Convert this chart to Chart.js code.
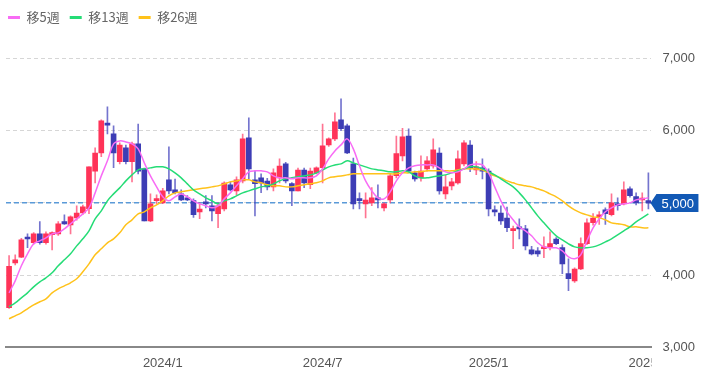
<!DOCTYPE html>
<html>
<head>
<meta charset="utf-8">
<script src="https://cdn.jsdelivr.net/npm/chart.js@4.4.1/dist/chart.umd.min.js"></script>
<style>
  html, body { margin: 0; padding: 0; background: #fff; }
  #wrap { width: 713px; height: 387px; }
</style>
</head>
<body>
<div id="wrap"><canvas id="chart"></canvas></div>
<script>
// weekly candles, from the week of 2023/7/10
const weeks = [];
for (let i = 0; i < 105; i++) {
    const d = new Date(2023, 6, 10 + 7 * i);
    weeks.push(d.getFullYear() + '/' + (d.getMonth() + 1) + '/' + d.getDate());
}
const xTickLabels = ['2024/1', '2024/7', '2025/1', '2025/7'];
const yTicks = [3000, 4000, 5000, 6000, 7000];
const currentPrice = 5000;

const opens = [3550,4170,4250,4515,4450,4570,4450,4560,4570,4740, 4695,4790,4860,4920,5440,5690,6090,5955,5570,5760,
    5570,5815,5470,4750,5030,5000,5320,5180,5125,5070, 5030,4875,5000,4960,4850,4915,5250,5165,5305,5900,
    5320,5345,5300,5220,5345,5540,5265,5165,5455,5250, 5415,5485,5800,5885,6150,6065,5540,5055,4985,5000,
    5070,4930,5040,5375,5650,5925,5415,5345,5470,5510, 5690,5125,5235,5275,5540,5800,5455,5485,5440,4905,
    4860,4790,4615,4655,4640,4350,4335,4365,4390,4500, 4380,4020,3920,4085,4435,4725,4805,4905,4835,4985,
    4985,5195,5085,5040,5030];
const highs = [4270,4280,4510,4570,4590,4740,4600,4600,4740,4835, 4820,4960,4970,5500,5760,6150,6330,6065,5830,5800,
    5840,6090,5480,5125,5110,5200,5775,5330,5180,5100, 5055,5000,5100,5100,5000,5290,5290,5360,5950,6175,
    5440,5400,5340,5470,5610,5560,5280,5480,5480,5480, 5500,6090,5900,6245,6440,6090,5620,5140,5140,5210,
    5250,5000,5400,5925,6030,6025,5440,5650,5640,5885, 5760,5380,5340,5720,5860,5860,5570,5610,5470,4960,
    4960,4940,4680,4780,4690,4400,4380,4530,4600,4520, 4420,4225,4100,4515,4780,4850,4880,4930,5125,5070,
    5290,5220,5140,5140,5415];
const lows = [3540,4140,4240,4380,4430,4430,4430,4350,4550,4700, 4570,4760,4840,4850,5275,5640,5955,5485,5540,5540,
    5290,5400,4750,4740,4990,4990,5125,5125,5030,5030, 4800,4780,4930,4750,4655,4890,5165,5110,5275,5330,
    4820,5140,5180,5165,5275,5275,4960,5165,5210,5195, 5400,5275,5780,5860,6000,5680,4915,4915,4790,4960,
    4930,4890,5000,5345,5580,5415,5300,5300,5440,5480, 5120,5055,5180,5260,5510,5430,5390,5330,4820,4820,
    4700,4600,4365,4500,4350,4280,4260,4240,4350,4420, 4020,3785,3900,4075,4420,4690,4700,4700,4820,4900,
    4970,5080,4970,4890,4915];
const closes = [4120,4210,4490,4500,4570,4450,4570,4575,4710,4710, 4805,4860,4945,5500,5690,6135,6075,5690,5800,5570,
    5815,5440,4750,4985,5055,5165,5165,5140,5040,5040, 4835,4915,4985,4890,4960,5275,5180,5320,5885,5470,
    5265,5275,5220,5415,5510,5305,5165,5455,5275,5440, 5485,5790,5885,6120,6025,5690,4985,5030,5040,5070,
    5040,4985,5375,5680,5915,5440,5330,5440,5580,5735, 5165,5220,5290,5610,5830,5485,5500,5440,4915,4875,
    4750,4655,4640,4640,4405,4295,4295,4380,4435,4435, 4155,3950,4085,4435,4725,4790,4835,4850,5000,4960,
    5180,5100,5000,5055,5000];

const ma5 = [3755,3921,4130,4295,4433,4474,4516,4571,4585,4640, 4710,4779,4848,4931,5138,5373,5581,5816,5857,5843,
    5816,5747,5553,5373,5221,5083,5028,5083,5124,5083, 5028,4986,4959,4931,4959,5055,5138,5235,5332,5429,
    5443,5443,5429,5373,5346,5346,5332,5346,5346,5346, 5373,5470,5609,5719,5802,5885,5747,5512,5304,5166,
    5069,5055,5152,5304,5415,5484,5512,5525,5525,5525, 5484,5429,5415,5429,5470,5525,5539,5525,5415,5221,
    5028,4876,4765,4668,4613,4544,4447,4391,4378,4378, 4336,4253,4226,4281,4474,4654,4779,4876,4931,4972,
    4986,5000,5041,5055,5069];
const ma13 = [3562,3617,3686,3755,3838,3907,3963,4032,4129,4212, 4295,4405,4502,4613,4779,4889,5028,5124,5207,5304,
    5387,5456,5470,5484,5498,5498,5470,5415,5346,5263, 5180,5124,5069,5028,4986,5028,5055,5097,5138,5166,
    5194,5221,5235,5263,5304,5332,5346,5360,5373,5387, 5415,5456,5498,5525,5539,5581,5553,5525,5498,5470,
    5456,5443,5429,5429,5443,5429,5373,5346,5346,5360, 5373,5387,5415,5443,5470,5498,5498,5470,5429,5387,
    5332,5277,5221,5138,5041,4931,4820,4723,4627,4544, 4488,4433,4391,4378,4378,4391,4419,4460,4502,4557,
    4613,4668,4737,4793,4848];
const ma26 = [3396,3437,3479,3534,3589,3631,3672,3755,3811,3852, 3894,3949,4046,4156,4281,4364,4447,4502,4585,4696,
    4765,4848,4876,4931,4972,5028,5097,5138,5152,5166, 5180,5194,5207,5221,5235,5263,5290,5304,5318,5318,
    5290,5277,5249,5235,5235,5221,5221,5235,5249,5263, 5277,5304,5346,5360,5373,5387,5401,5401,5401,5401,
    5401,5401,5401,5401,5415,5415,5429,5429,5443,5443, 5443,5443,5443,5456,5470,5470,5470,5456,5415,5373,
    5346,5304,5277,5249,5235,5221,5194,5166,5124,5083, 5028,4959,4903,4862,4834,4806,4793,4765,4723,4710,
    4696,4668,4668,4654,4654];

const UP = '#ff3358', DOWN = '#3d3db5';
const UP_WICK = 'rgba(255,70,110,0.75)', DOWN_WICK = 'rgba(70,70,190,0.75)';
const isUp = closes.map((c, i) => c >= opens[i]);

const bodies = opens.map((o, i) => [o, closes[i]]);
const wicks = lows.map((l, i) => [l, highs[i]]);

// nudge the legend to the left edge
const legendShift = {
    id: 'legendShift',
    afterLayout(chart) {
        if (chart.legend) {
            chart.legend.left -= 8;
            chart.legend.top += 1;
        }
    }
};

// current price line and price tag on the right axis
const pricePlugin = {
    id: 'priceTag',
    beforeDatasetsDraw(chart) {
        const { ctx, chartArea, scales } = chart;
        const y = scales.y.getPixelForValue(currentPrice);
        ctx.save();
        ctx.strokeStyle = '#5a9ad8';
        ctx.lineWidth = 1.5;
        ctx.setLineDash([5, 3]);
        ctx.beginPath();
        ctx.moveTo(chartArea.left, y);
        ctx.lineTo(chartArea.right, y);
        ctx.stroke();
        ctx.restore();
    },
    afterDraw(chart) {
        const { ctx, chartArea, scales } = chart;
        const y = Math.round(scales.y.getPixelForValue(currentPrice));
        ctx.save();
        // hide the part of the last date label that runs past the plot
        ctx.fillStyle = '#fff';
        ctx.fillRect(chartArea.right, chartArea.bottom + 8, 80, 30);
        const x0 = chartArea.right - 1;
        ctx.fillStyle = '#1259b5';
        ctx.beginPath();
        ctx.moveTo(x0, y);
        ctx.lineTo(x0 + 6, y - 9);
        ctx.lineTo(x0 + 48, y - 9);
        ctx.lineTo(x0 + 48, y + 9);
        ctx.lineTo(x0 + 6, y + 9);
        ctx.closePath();
        ctx.fill();
        ctx.fillStyle = '#fff';
        ctx.font = '13px "Liberation Sans", Arial, sans-serif';
        ctx.textBaseline = 'middle';
        ctx.fillText(currentPrice.toLocaleString('en-US'), x0 + 11, y + 1);
        ctx.restore();
    }
};

const ctx = document.getElementById('chart').getContext('2d');
new Chart(ctx, {
    data: {
        labels: weeks,
        datasets: [
            { type: 'line', label: '移5週', data: ma5, borderColor: '#f86cf5', backgroundColor: '#f86cf5',
              borderWidth: 1.5, pointRadius: 0, tension: 0.35, order: 0 },
            { type: 'line', label: '移13週', data: ma13, borderColor: '#25dc76', backgroundColor: '#25dc76',
              borderWidth: 1.5, pointRadius: 0, tension: 0.35, order: 0 },
            { type: 'line', label: '移26週', data: ma26, borderColor: '#ffc21a', backgroundColor: '#ffc21a',
              borderWidth: 1.5, pointRadius: 0, tension: 0.35, order: 0 },
            { type: 'bar', label: 'body', data: bodies, grouped: false, barThickness: 5, minBarLength: 2,
              backgroundColor: isUp.map(u => u ? UP : DOWN), order: 1 },
            { type: 'bar', label: 'wick', data: wicks, grouped: false, barThickness: 1,
              backgroundColor: isUp.map(u => u ? UP_WICK : DOWN_WICK), order: 2 }
        ]
    },
    options: {
        responsive: true,
        maintainAspectRatio: false,
        animation: false,
        layout: { padding: { left: 6, right: 7, top: 0, bottom: 8 } },
        plugins: {
            tooltip: { enabled: false },
            legend: {
                position: 'top',
                align: 'start',
                labels: {
                    usePointStyle: true,
                    pointStyle: 'line',
                    pointStyleWidth: 12,
                    padding: 10,
                    color: '#666',
                    font: { family: '"Noto Sans CJK JP", "Noto Sans", sans-serif', size: 13 },
                    filter: item => item.datasetIndex < 3,
                    generateLabels(chart) {
                        const items = Chart.defaults.plugins.legend.labels.generateLabels(chart);
                        items.forEach(it => { it.lineWidth = 3; });
                        return items;
                    }
                }
            }
        },
        scales: {
            x: {
                type: 'category',
                grid: { display: false, drawTicks: false },
                border: { display: true, color: '#888', width: 2 },
                ticks: {
                    autoSkip: false,
                    maxRotation: 0,
                    padding: 8,
                    color: '#555',
                    font: { family: '"Liberation Sans", Arial, sans-serif', size: 13 },
                    callback(value, index) {
                        const ym = weeks[index].slice(0, weeks[index].lastIndexOf('/'));
                        const prev = index > 0 ? weeks[index - 1].slice(0, weeks[index - 1].lastIndexOf('/')) : '';
                        return (xTickLabels.includes(ym) && ym !== prev) ? ym : '';
                    }
                }
            },
            y: {
                position: 'right',
                min: 3000,
                max: 7350,
                afterBuildTicks(scale) { scale.ticks = yTicks.map(v => ({ value: v })); },
                grid: { color: '#d6d6d6', lineWidth: 1, drawTicks: false },
                border: { display: false, dash: [4, 3] },
                ticks: {
                    padding: 11,
                    color: '#555',
                    font: { family: '"Liberation Sans", Arial, sans-serif', size: 13 },
                    callback: v => v.toLocaleString('en-US')
                }
            }
        }
    },
    plugins: [legendShift, pricePlugin]
});
</script>
</body>
</html>
